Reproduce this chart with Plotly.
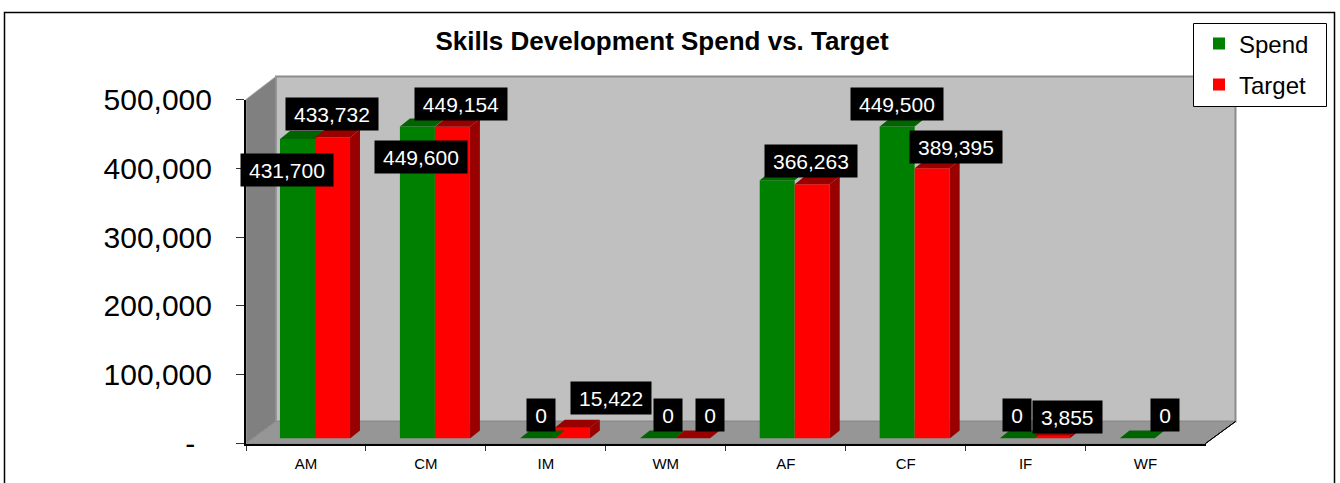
import plotly.graph_objects as go

categories = ["AM", "CM", "IM", "WM", "AF", "CF", "IF", "WF"]
spend = [431700, 449600, 0, 0, 372000, 449500, 0, 0]
target = [433732, 449154, 15422, 0, 366263, 389395, 3855, None]
spend_labels = ["431,700", "449,600", "0", "0", None, "449,500", "0", "0"]
target_labels = ["433,732", "449,154", "15,422", "0", "366,263", "389,395", "3,855", None]
y_ticks = [0, 100000, 200000, 300000, 400000, 500000]
y_tick_text = ["-\u00a0\u00a0", "100,000", "200,000", "300,000", "400,000", "500,000"]

# label offsets from each bar's top centre (px)
spend_dx = [-10.5, 3.6, 3.75, 11, 0, 0, 0.4, 27.5]
spend_dy = [-31.6, -31, 24, 24, 0, 23, 24, 24]
target_dx = [0, 8.6, 38.75, 18, -1, 24, 15.4, 0]
target_dy = [23, 22.3, 29.4, 24, 23.3, 20.8, 19, 0]

W, H = 1340, 483
FONT = "Liberation Sans, Arial, sans-serif"
GREEN, GREEN_D = "#008000", "#006400"
RED, RED_D = "#FF0000", "#990000"

# chart geometry in px
X0, X1 = 246, 1205.5
Y0, Y500 = 443.5, 99.5
DEPTH_X, DEPTH_Y = 30, 22
BAR_DX, BAR_DY = 9, 5
CAT_W = (X1 - X0) / len(categories)
BAR_PX_PER_VAL = 0.000694
TOP_VAL = 520000
BAR_DEPTH_X, BAR_DEPTH_Y = 10 / CAT_W, 8 / BAR_PX_PER_VAL
BAR_HALF = 35 / CAT_W


def px(x):
    return x / W


def py(y):
    return 1 - y / H


def poly(points, fill, line=None, width=1):
    path = "M" + " L".join(f"{px(a)},{py(b)}" for a, b in points) + " Z"
    return dict(type="path", xref="paper", yref="paper", path=path, fillcolor=fill,
                line=dict(color=line or "rgba(0,0,0,0)", width=width), layer="below")


shapes = [
    dict(type="rect", xref="paper", yref="paper", x0=px(4.5), x1=px(1334.5), y0=py(500), y1=py(12.5),
         line=dict(color="black", width=1.5), fillcolor="white", layer="below"),
    poly([(X0 + DEPTH_X, Y500 - DEPTH_Y - 1), (X1 + DEPTH_X, Y500 - DEPTH_Y - 1),
          (X1 + DEPTH_X, Y0 - DEPTH_Y), (X0 + DEPTH_X, Y0 - DEPTH_Y)], "#C0C0C0", "#8C8C8C", 2),
    poly([(X0, Y500), (X0 + DEPTH_X, Y500 - DEPTH_Y - 1), (X0 + DEPTH_X, Y0 - DEPTH_Y), (X0, Y0)],
         "#808080", "#A0A0A0", 1),
    poly([(X0, Y0), (X0 + DEPTH_X, Y0 - DEPTH_Y), (X1 + DEPTH_X, Y0 - DEPTH_Y), (X1, Y0)],
         "#969696", "#8C8C8C", 1),
    poly([(X1, Y0), (X1 + DEPTH_X, Y0 - DEPTH_Y)], "rgba(0,0,0,0)", "black", 1),
    dict(type="rect", xref="paper", yref="paper", x0=px(1193.5), x1=px(1326.5), y0=py(106.5), y1=py(23.5),
         line=dict(color="black", width=1), fillcolor="white", layer="below"),
]

fig = go.Figure()

# invisible trace that carries the visible category axis
fig.add_trace(go.Bar(x=categories, y=[0] * len(categories), xaxis="x", yaxis="y",
                     showlegend=False, hoverinfo="skip", marker_opacity=0))


def add_faces(values, offset, top_color, side):
    """Top (and optional right) faces of the 3D bars, derived from the values."""
    for i, v in enumerate(values):
        if v is None:
            continue
        left, right = i + offset, i + offset + BAR_HALF
        fig.add_trace(go.Scatter(
            x=[left, right, right + BAR_DEPTH_X, left + BAR_DEPTH_X, left],
            y=[v, v, v + BAR_DEPTH_Y, v + BAR_DEPTH_Y, v],
            xaxis="x2", yaxis="y2", mode="lines", line=dict(width=0), fill="toself",
            fillcolor=top_color, showlegend=False, hoverinfo="skip"))
        if side and v > 0:
            fig.add_trace(go.Scatter(
                x=[right, right + BAR_DEPTH_X, right + BAR_DEPTH_X, right, right],
                y=[0, BAR_DEPTH_Y, v + BAR_DEPTH_Y, v, 0],
                xaxis="x2", yaxis="y2", mode="lines", line=dict(width=0), fill="toself",
                fillcolor=RED_D, showlegend=False, hoverinfo="skip"))


add_faces(spend, -BAR_HALF, GREEN_D, False)
add_faces(target, 0, RED_D, True)

idx = list(range(len(categories)))
fig.add_trace(go.Bar(x=idx, y=spend, name="Spend", marker=dict(color=GREEN, line_width=0),
                     xaxis="x2", yaxis="y2", legend="legend"))
fig.add_trace(go.Bar(x=idx, y=target, name="Target", marker=dict(color=RED, line_width=0),
                     xaxis="x2", yaxis="y2", legend="legend2"))

annotations = []


def add_labels(values, labels, offset, dxs, dys):
    for i, (v, t) in enumerate(zip(values, labels)):
        if t is None:
            continue
        annotations.append(dict(
            x=i + offset, y=v, xref="x2", yref="y2", text=t, showarrow=False,
            xshift=dxs[i], yshift=dys[i], bgcolor="black", borderpad=0,
            width=len(t) * 11.7 + 10 if len(t) > 1 else 28, height=32,
            font=dict(color="white", size=21, family=FONT), align="center", valign="middle"))


add_labels(spend, spend_labels, -BAR_HALF / 2, spend_dx, spend_dy)
add_labels(target, target_labels, BAR_HALF / 2, target_dx, target_dy)

fig.update_layout(
    width=W, height=H, margin=dict(l=0, r=0, t=0, b=0, pad=0, autoexpand=False),
    paper_bgcolor="white", plot_bgcolor="rgba(0,0,0,0)",
    barmode="group", bargap=1 - 70 / CAT_W, bargroupgap=0,
    title=dict(text="<b>Skills Development Spend vs. Target</b>", x=662 / W, xanchor="center",
               y=py(41), yanchor="middle", font=dict(family=FONT, size=26, color="black")),
    font=dict(family=FONT, color="black"),
    shapes=shapes, annotations=annotations,
    hovermode=False,
    legend=dict(x=px(1199), y=py(44), xanchor="left", yanchor="middle", bgcolor="rgba(0,0,0,0)",
                font=dict(size=24, family=FONT), itemwidth=30),
    legend2=dict(x=px(1199), y=py(85), xanchor="left", yanchor="middle", bgcolor="rgba(0,0,0,0)",
                 font=dict(size=24, family=FONT), itemwidth=30),
    xaxis=dict(domain=[px(X0), px(X1)], type="category", categoryorder="array", categoryarray=categories,
               tickson="boundaries", ticks="outside", ticklen=5, tickcolor="#333333", tickwidth=1,
               ticklabelstandoff=5,
               showline=True, linecolor="black", linewidth=2, showgrid=False, zeroline=False,
               tickfont=dict(size=15, family=FONT, color="black"), anchor="y", fixedrange=True),
    yaxis=dict(domain=[py(Y0), py(Y500)], range=[0, 500000], tickvals=y_ticks, ticktext=y_tick_text,
               ticks="outside", ticklen=8, tickcolor="#333333", tickwidth=1,
               ticklabelstandoff=18,
               showline=True, linecolor="black", linewidth=2, showgrid=False, zeroline=False,
               tickfont=dict(size=30, family=FONT, color="black"), anchor="x", fixedrange=True),
    xaxis2=dict(domain=[px(X0 + BAR_DX), px(X1 + BAR_DX)], range=[-0.5, len(categories) - 0.5], visible=False,
                anchor="y2", fixedrange=True),
    yaxis2=dict(domain=[py(Y0 - BAR_DY), py(Y0 - BAR_DY - TOP_VAL * BAR_PX_PER_VAL)], range=[0, TOP_VAL],
                visible=False, anchor="x2", fixedrange=True),
)

fig.write_html("out.html", config=dict(displayModeBar=False),
               post_script="document.body.style.margin='0';document.documentElement.style.overflow='hidden';window.dispatchEvent(new Event('resize'));")
